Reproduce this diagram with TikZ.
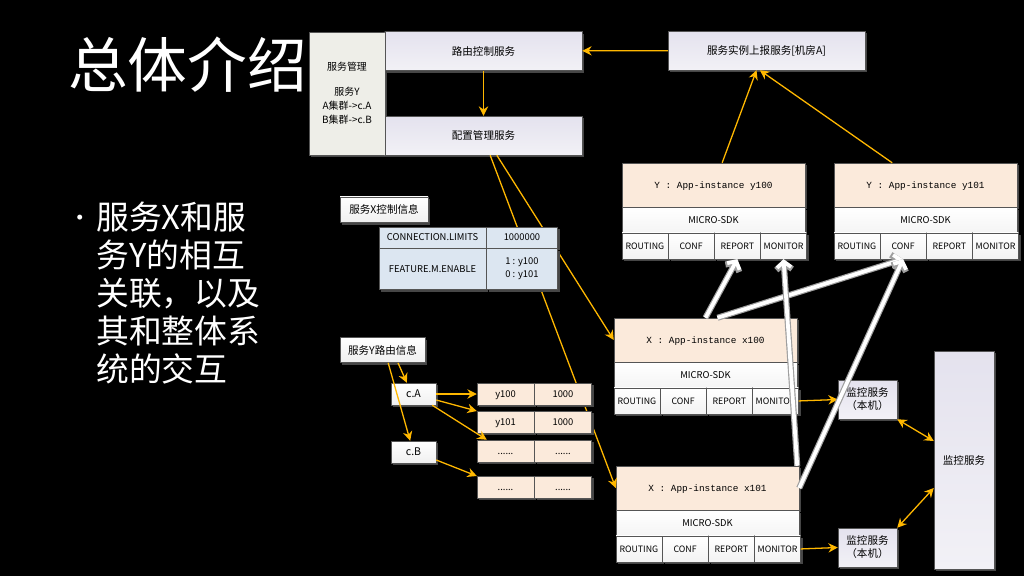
\documentclass[tikz,border=0pt]{standalone}
\usepackage{fontspec}
\setmainfont{Noto Sans CJK SC}
\newfontfamily\monofont{Liberation Mono}
\usepackage{tikz}
\usetikzlibrary{arrows.meta,positioning,shadows}

\definecolor{amber}{RGB}{255,184,0}
\definecolor{edge}{RGB}{85,85,85}
\definecolor{shade}{RGB}{70,70,70}
\definecolor{lavtop}{RGB}{228,226,238}
\definecolor{lavbot}{RGB}{242,241,246}
\definecolor{peach}{RGB}{251,234,219}
\definecolor{tblue}{RGB}{220,230,241}
\definecolor{mgmtfill}{RGB}{238,238,232}

\begin{document}
\begin{tikzpicture}[x=0.03cm, y=-0.03cm,
  box/.style={draw=edge, inner sep=1pt, text=black,
    font=\fontsize{9}{12}\selectfont,
    drop shadow={shadow xshift=2pt, shadow yshift=-2pt, fill=shade, opacity=1}},
  svc/.style={box, top color=lavtop, bottom color=lavbot,
    minimum width=5.91cm, minimum height=1.17cm},
  head/.style={box, fill=peach, minimum width=5.49cm, minimum height=1.32cm,
    font=\fontsize{8}{10}\monofont, text height=1.6ex, text depth=0.4ex},
  sdk/.style={box, top color=white, bottom color=gray!8,
    minimum width=5.49cm, minimum height=0.75cm, font=\fontsize{8}{10}\selectfont},
  cell/.style={box, top color=white, bottom color=gray!10,
    minimum width=1.3725cm, minimum height=0.78cm, font=\fontsize{7.5}{9}\selectfont},
  tag/.style={box, top color=white, bottom color=gray!12,
    minimum height=0.76cm},
  tcell/.style={box, fill=tblue, font=\fontsize{8}{11}\selectfont},
  rcell/.style={box, fill=peach, minimum width=1.71cm, minimum height=0.66cm,
    font=\fontsize{8}{10}\selectfont, text height=1.5ex, text depth=0.3ex},
  mbox/.style={box, top color=lavtop, bottom color=lavbot, align=center,
    font=\fontsize{9}{11}\selectfont},
  arr/.style={-{Stealth[length=8pt, width=8pt]}, amber, line width=1.1pt},
  dbl/.style={{Stealth[length=8pt, width=8pt]}-{Stealth[length=8pt, width=8pt]},
    amber, line width=1.1pt},
  hollow/.style={white, line width=3.2pt, -{Straight Barb[length=5pt, width=12pt]},
    preaction={draw=gray!75, line width=5.2pt, -{Straight Barb[length=5.5pt, width=13.5pt]}}}
]
  % Slide background
  \fill[black] (0,0) rectangle (1024,576);
  \useasboundingbox (0,0) rectangle (1024,576);

  % Title and bullet
  \node[anchor=west, inner sep=0, text=white, font=\fontsize{51}{60}\selectfont] (title) at (68,65) {总体介绍};
  \node[inner sep=0, text=white, font=\fontsize{20}{20}\selectfont] (dot) at (80,221) {•};
  \node[anchor=north west, inner sep=0, text=white, align=left,
    font=\fontsize{28}{32.4}\selectfont] (bullet) at (96,202)
    {服务X和服\\务Y的相互\\关联，以及\\其和整体系\\统的交互};

  % Management services
  \node[box, fill=mgmtfill, minimum width=2.28cm, minimum height=3.69cm, align=center,
    font=\fontsize{8.5}{12}\selectfont] (mgmt) at (347,93.5)
    {服务管理\\[9pt]服务Y\\A集群->c.A\\B集群->c.B};
  \node[svc] (route) at (483.5,51) {路由控制服务};
  \node[svc] (conf) at (483.5,135.5) {配置管理服务};
  \node[svc] (report) at (766.5,50.5) {服务实例上报服务[机房A]};

  % Y instances
  \node[head] (ya) at (713.5,185) {Y : App-instance y100};
  \node[sdk, below=0pt of ya] (ya-sdk) {MICRO-SDK};
  \node[cell, anchor=north west] (ya-r) at (ya-sdk.south west) {ROUTING};
  \node[cell, right=0pt of ya-r] (ya-c) {CONF};
  \node[cell, right=0pt of ya-c] (ya-p) {REPORT};
  \node[cell, right=0pt of ya-p] (ya-m) {MONITOR};

  \node[head] (yb) at (925.5,185) {Y : App-instance y101};
  \node[sdk, below=0pt of yb] (yb-sdk) {MICRO-SDK};
  \node[cell, anchor=north west] (yb-r) at (yb-sdk.south west) {ROUTING};
  \node[cell, right=0pt of yb-r] (yb-c) {CONF};
  \node[cell, right=0pt of yb-c] (yb-p) {REPORT};
  \node[cell, right=0pt of yb-p] (yb-m) {MONITOR};

  % X instances
  \node[head] (xa) at (705.5,340) {X : App-instance x100};
  \node[sdk, below=0pt of xa] (xa-sdk) {MICRO-SDK};
  \node[cell, anchor=north west] (xa-r) at (xa-sdk.south west) {ROUTING};
  \node[cell, right=0pt of xa-r] (xa-c) {CONF};
  \node[cell, right=0pt of xa-c] (xa-p) {REPORT};
  \node[cell, right=0pt of xa-p] (xa-m) {MONITOR};

  \node[head] (xb) at (707.5,488) {X : App-instance x101};
  \node[sdk, below=0pt of xb] (xb-sdk) {MICRO-SDK};
  \node[cell, anchor=north west] (xb-r) at (xb-sdk.south west) {ROUTING};
  \node[cell, right=0pt of xb-r] (xb-c) {CONF};
  \node[cell, right=0pt of xb-c] (xb-p) {REPORT};
  \node[cell, right=0pt of xb-p] (xb-m) {MONITOR};

  % Config pushes (behind the tables)
  \draw[arr] ([xshift=0.4cm]conf.south) -- (xa.west);
  \draw[arr] ([xshift=0.2cm]conf.south) -- (xb.west);

  % Control info of service X
  \node[tag, minimum width=2.64cm] (xctl) at (384,209.5) {服务X控制信息};
  \node[tcell, minimum width=3.21cm, minimum height=0.63cm] (lim) at (432.5,237.5) {CONNECTION.LIMITS};
  \node[tcell, minimum width=2.13cm, minimum height=0.63cm, right=0pt of lim] (limv) {1000000};
  \node[tcell, minimum width=3.21cm, minimum height=1.23cm, below=0pt of lim] (feat) {FEATURE.M.ENABLE};
  \node[tcell, minimum width=2.13cm, minimum height=1.23cm, right=0pt of feat, align=center] (featv) {1 : y100\\0 : y101};

  % Routing info of service Y
  \node[tag, minimum width=2.55cm] (yrt) at (382.5,350) {服务Y路由信息};
  \node[tag, minimum width=1.35cm, minimum height=0.66cm] (ca) at (413.5,394) {c.A};
  \node[tag, minimum width=1.35cm, minimum height=0.66cm] (cb) at (413.5,452) {c.B};

  \node[rcell] (r1a) at (505.5,394) {y100};
  \node[rcell, right=0pt of r1a] (r1b) {1000};
  \node[rcell] (r2a) at (505.5,422) {y101};
  \node[rcell, right=0pt of r2a] (r2b) {1000};
  \node[rcell] (r3a) at (505.5,451) {......};
  \node[rcell, right=0pt of r3a] (r3b) {......};
  \node[rcell] (r4a) at (505.5,487) {......};
  \node[rcell, right=0pt of r4a] (r4b) {......};

  % Monitoring
  \node[mbox, minimum width=1.77cm, minimum height=1.17cm] (mona) at (867.5,399.5) {监控服务\\（本机）};
  \node[mbox, minimum width=1.77cm, minimum height=1.17cm] (monb) at (867.5,547.5) {监控服务\\（本机）};
  \node[mbox, minimum width=1.8cm, minimum height=6.54cm] (mon) at (964,460) {监控服务};

  % Orange connectors
  \draw[arr] (route) -- (conf);
  \draw[arr] (report) -- (route);
  \draw[arr] ([xshift=0.26cm]ya.north) -- ([xshift=-0.3cm]report.south);
  \draw[arr] ([xshift=-1cm]yb.north) -- ([xshift=-0.2cm]report.south);
  \draw[arr] ([xshift=0.465cm]yrt.south) -- ([xshift=-0.2cm]ca.north);
  \draw[arr] ([xshift=0.17cm]yrt.south) -- ([xshift=-0.1cm]cb.north);
  \draw[arr] (ca.east) -- (r1a.west);
  \draw[arr] ([yshift=-0.18cm]ca.east) -- ([yshift=0.33cm]r2a.west);
  \draw[arr] ([xshift=-0.12cm]ca.south east) -- ([xshift=0.3cm]r3a.north west);
  \draw[arr] ([yshift=-0.24cm]cb.east) -- ([yshift=0.33cm]r4a.west);
  \draw[arr] (xa-m.east) -- (mona.west);
  \draw[arr] (xb-m.east) -- (monb.west);
  \draw[dbl] (mona.south east) -- ([yshift=0.57cm]mon.west);
  \draw[dbl] (monb.north east) -- ([yshift=-0.84cm]mon.west);

  % Report links between instances
  \draw[hollow] (xa.north) -- (ya-p.south);
  \draw[hollow] ([xshift=0.36cm]xa.north) -- (yb-c.south);
  \draw[hollow] ([xshift=-0.06cm]xb.north east) -- (ya-m.south);
  \draw[hollow] (xb.east) -- (yb-c.south);
\end{tikzpicture}
\end{document}
